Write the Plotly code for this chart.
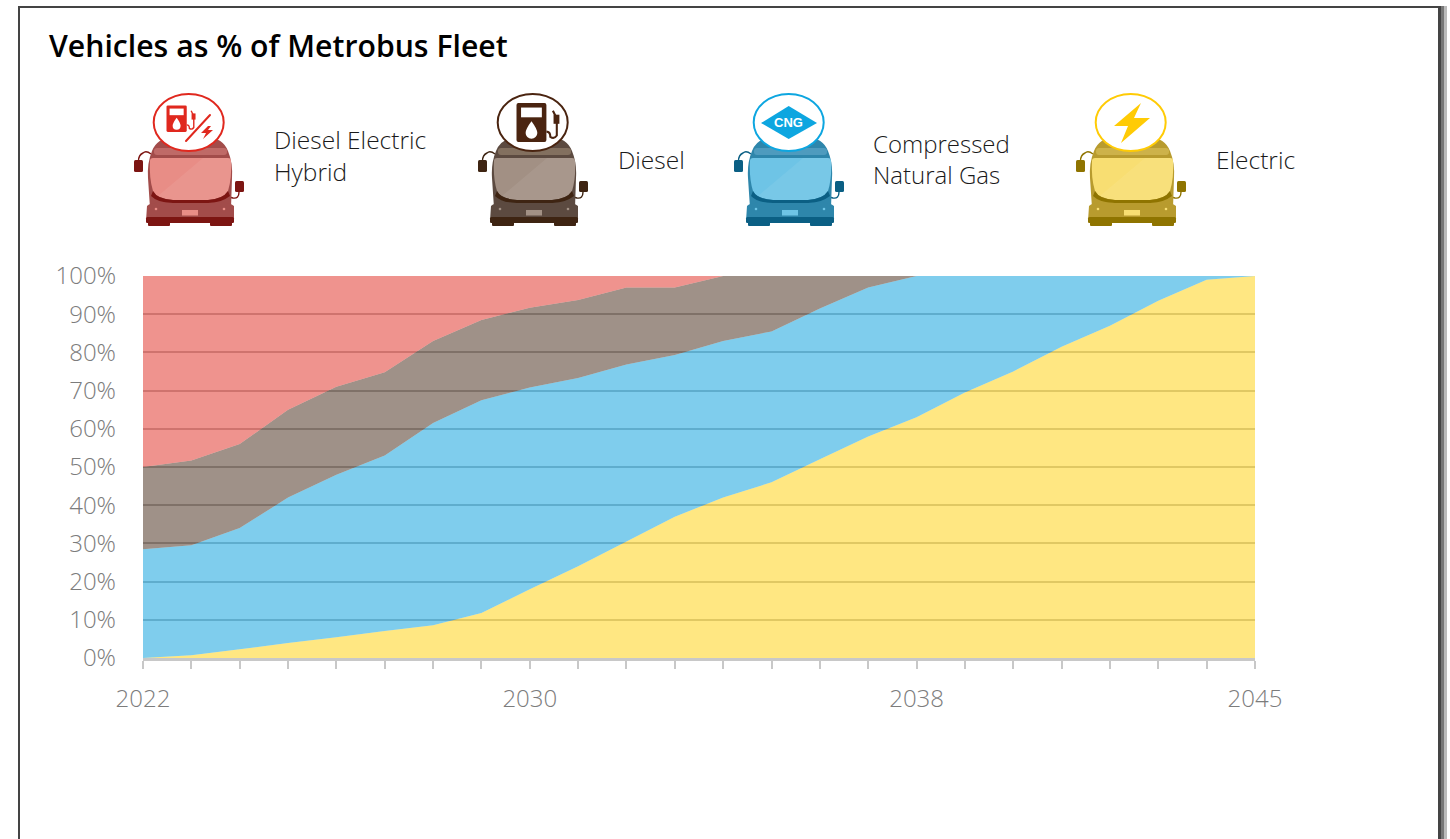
import base64
import plotly.graph_objects as go

W, H = 1450, 839

# ---------- data ----------
years = list(range(2022, 2046))
electric = [0, 0.7, 2.3, 3.9, 5.4, 7.1, 8.6, 11.8, 18, 24, 30.5, 37, 42, 46, 52, 58, 63, 69.5, 75, 81.5, 87, 93.5, 99, 100]
cng = [28.5, 28.8, 31.7, 38.1, 42.6, 45.9, 52.9, 55.7, 52.8, 49.3, 46.3, 42.3, 41, 39.5, 39.5, 39, 37, 30.5, 25, 18.5, 13, 6.5, 1, 0]
diesel = [21.5, 22.2, 22, 23, 23, 21.8, 21.5, 21, 20.9, 20.4, 20.2, 17.7, 17, 14.5, 8.5, 3, 0, 0, 0, 0, 0, 0, 0, 0]
hybrid = [50, 48.3, 44, 35, 29, 25.2, 17, 11.5, 8.3, 6.3, 3, 3, 0, 0, 0, 0, 0, 0, 0, 0, 0, 0, 0, 0]
x_labelled = {2022: "2022", 2030: "2030", 2038: "2038", 2045: "2045"}
y_ticks = list(range(0, 101, 10))

FONT = "Open Sans"


def px(x):
    return x / W


def py(y):
    return 1 - y / H


# ---------- bus icons (decorative) ----------
def bus_svg(body, mid, glass, dark, accent, emblem):
    svg = f'''<svg xmlns="http://www.w3.org/2000/svg" width="460" height="540" viewBox="0 0 115 135">
<path d="M5.5 68 Q5.5 62 10 60 Q13 57 18 61" fill="none" stroke="{dark}" stroke-width="1.4"/>
<rect x="1" y="67" width="9" height="12" rx="1.5" fill="{dark}"/>
<path d="M106 99 Q106 106 100 105 L96 104" fill="none" stroke="{dark}" stroke-width="1.4"/>
<rect x="102" y="88" width="9" height="11" rx="1.5" fill="{dark}"/>
<rect x="15" y="129" width="22" height="4" rx="1" fill="{dark}"/>
<rect x="77" y="129" width="22" height="4" rx="1" fill="{dark}"/>
<path d="M17 115 L15 85 Q14 70 19 58 Q24 45 40 44 L74 44 Q90 45 95 58 Q100 70 99 85 L98 115 Z" fill="{body}"/>
<rect x="21" y="55" width="73" height="7" rx="3" fill="{mid}"/>
<path d="M20 65 L95 65 Q98 65 98 68 Q99 85 95 98 Q90 106 75 107 L40 107 Q24 106 20 98 Q16 85 17 68 Q17 65 20 65 Z" fill="{glass}"/>
<path d="M25 103 L70 65 L95 65 Q98 65 98 68 Q99 85 95 98 Q90 106 75 107 L40 107 Q30 107 25 103 Z" fill="#ffffff" fill-opacity="0.07"/>
<path d="M20 98 Q24 106 40 107 L75 107 Q90 106 95 98 L97 103 Q88 110 75 110 L40 110 Q25 110 18 103 Z" fill="{dark}"/>
<path d="M14 113 Q18 108 40 110 L75 110 Q96 108 101 113 L101 128 Q101 130 98 130 L16 130 Q13 130 13 128 Z" fill="{body}"/>
<rect x="13" y="124" width="88" height="6" rx="1.5" fill="{dark}"/>
<rect x="49" y="117" width="16" height="5.5" fill="{glass}"/>
<circle cx="23" cy="116" r="1.3" fill="{glass}"/>
<circle cx="91" cy="116" r="1.3" fill="{glass}"/>
<ellipse cx="55.7" cy="29.5" rx="35" ry="28.5" fill="#ffffff" stroke="{accent}" stroke-width="2"/>
{emblem}
</svg>'''
    return "data:image/svg+xml;base64," + base64.b64encode(svg.encode()).decode()


def pump(x, y, s, color):
    return f'''<g transform="translate({x} {y}) scale({s})" >
<rect x="0" y="0" width="23" height="30" rx="1.5" fill="{color}"/>
<rect x="3.5" y="3.5" width="16" height="7.5" fill="#ffffff"/>
<path d="M11.5 14 Q16 20 16 23 A4.5 4.5 0 0 1 7 23 Q7 20 11.5 14 Z" fill="#ffffff"/>
<path d="M23 22 Q26 22 26 26 Q29 28 31 25 L31 12 L28 6" fill="none" stroke="{color}" stroke-width="1.6"/>
<rect x="28.5" y="9" width="4.5" height="7" fill="{color}"/>
</g>'''


emb_hybrid = pump(33.5, 12.5, 0.88, "#E0281E") + '''
<path d="M53 48 L77 22" stroke="#E0281E" stroke-width="2" stroke-linecap="round"/>
<path d="M75 33 L68 40 L73 40 L70 46 L80 37 L75 37 L78 33 Z" fill="#E0281E"/>'''
emb_diesel = pump(39.5, 10, 1.3, "#4A2410")
emb_cng = '<path d="M55.7 13 L84 30 L55.7 46 L28 30 Z" fill="#0DA6E0"/>'
emb_elec = '<path d="M66 10 L39 33 L53 33 L46 50 L75 25 L59 25 Z" fill="#FFCB05"/>'

icons = [
    (133, bus_svg("#A24C4A", "#BF6A67", "#E88D86", "#7C1512", "#E0281E", emb_hybrid)),
    (477, bus_svg("#5C4A40", "#83705F", "#A29084", "#3E2412", "#4A2410", emb_diesel)),
    (733, bus_svg("#2E86AB", "#4E9BBE", "#6EC4E6", "#0B5F84", "#0DA6E0", emb_cng)),
    (1075, bus_svg("#B89B2E", "#CDB24A", "#F8DE72", "#8F7400", "#FFCB05", emb_elec)),
]

# ---------- figure ----------
fig = go.Figure()
for name, vals, color in [
    ("Electric", electric, "rgba(255,209,15,0.52)"),
    ("Compressed Natural Gas", cng, "rgba(0,155,220,0.5)"),
    ("Diesel", diesel, "rgba(63,35,17,0.5)"),
    ("Diesel Electric Hybrid", hybrid, "rgba(224,40,30,0.5)"),
]:
    fig.add_trace(go.Scatter(x=years, y=vals, name=name, mode="none", stackgroup="one", fillcolor=color))

images = [
    dict(source=src, xref="paper", yref="paper", x=px(x0), y=py(93), sizex=115 / W, sizey=135 / H,
         xanchor="left", yanchor="top", sizing="stretch", layer="above")
    for x0, src in icons
]


def label(text, x, y, size=24.5, color="#1a1a1a", anchor="left", **font):
    return dict(text=text, xref="paper", yref="paper", x=px(x), y=py(y), showarrow=False,
                xanchor=anchor, yanchor="middle", align="left",
                font=dict(family=font.get("family", FONT), size=size, color=color, weight=font.get("weight", 300)))


annotations = [
    label("Vehicles as % of Metrobus Fleet", 47, 46, size=30.2, color="#000000", weight=600),
    label("Diesel Electric<br>Hybrid", 272, 156),
    label("Diesel", 616, 160),
    label("Compressed<br>Natural Gas", 871, 159, size=24),
    label("Electric", 1214, 160),
    label("CNG", 788.5, 122, size=13, color="#ffffff", anchor="center", family="Liberation Sans", weight=700),
]


def rect(x0, y0, x1, y1, color):
    return dict(type="rect", xref="paper", yref="paper", x0=px(x0), x1=px(x1), y0=py(y0), y1=py(y1),
                fillcolor=color, line_width=0, layer="below")


shapes = [
    rect(18, 6, 20, 839, "#444444"),
    rect(18, 6, 1441, 8, "#444444"),
    rect(1438, 6, 1441, 839, "#444444"),
    rect(1441, 6, 1444, 839, "#777777"),
    rect(1444, 6, 1447, 839, "#BBBBBB"),
]

fig.update_layout(
    width=W, height=H, autosize=False,
    margin=dict(l=0, r=0, t=0, b=0, pad=0),
    paper_bgcolor="white", plot_bgcolor="white",
    showlegend=False,
    images=images, annotations=annotations, shapes=shapes,
    font=dict(family=FONT),
    xaxis=dict(
        automargin=False,
        domain=[px(143), px(1255)], range=[2022, 2045], tickmode="array",
        tickvals=years, ticktext=[x_labelled.get(y, "") for y in years],
        ticks="outside", ticklen=8, tickwidth=2, tickcolor="#C8C8C8",
        showline=True, linecolor="#C8C8C8", linewidth=3, showgrid=False, zeroline=False,
        tickfont=dict(family=FONT, size=24, color="#7c7c7c", weight=300), ticklabelstandoff=9,
    ),
    yaxis=dict(
        automargin=False,
        domain=[py(658), py(276)], range=[0, 100], tickmode="array",
        tickvals=y_ticks, ticktext=[f"{v}%" for v in y_ticks],
        ticks="", showline=False, showgrid=True, gridcolor="#BEBEBE", gridwidth=1.5, zeroline=False,
        tickfont=dict(family=FONT, size=24, color="#7c7c7c", weight=300), ticklabelstandoff=26,
    ),
)

fig.write_html("out.html", config=dict(displayModeBar=False), post_script="document.body.style.margin='0';")
